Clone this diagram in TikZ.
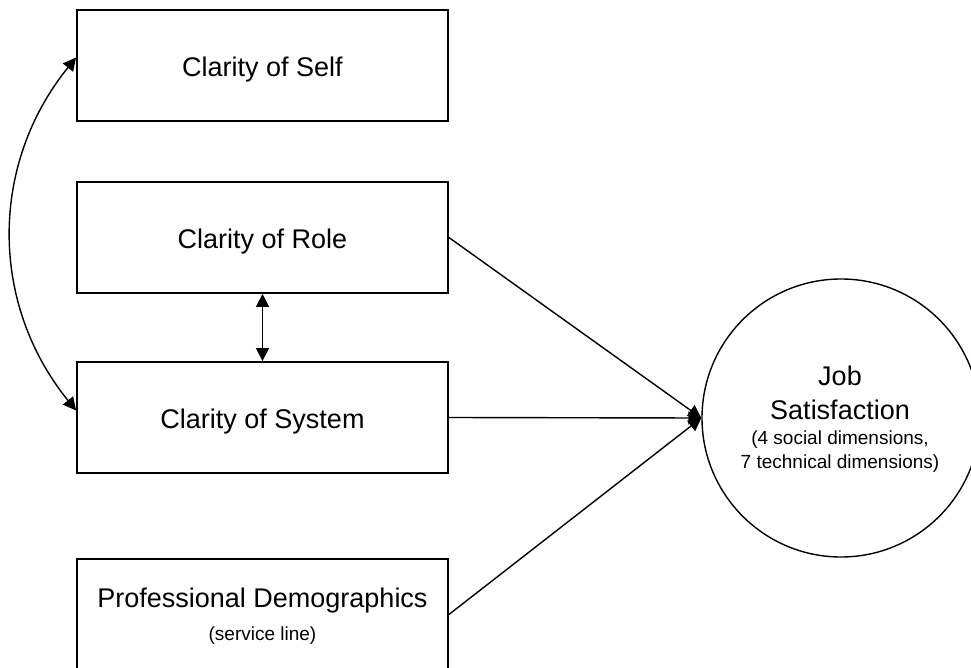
\documentclass[tikz,border=0pt]{standalone}
\usepackage{fontspec}
\setmainfont{Liberation Sans}
\usetikzlibrary{arrows.meta,calc}

\tikzset{
  bigtext/.style={font=\fontsize{27}{32}\selectfont},
  smalltext/.style={font=\fontsize{19}{24}\selectfont},
  factorbox/.style={draw, line width=1.8pt, minimum width=371pt, minimum height=111pt,
    inner sep=0pt},
  outcome/.style={draw, circle, line width=1.4pt, minimum size=278pt, inner sep=0pt},
  link/.style={line width=1.4pt, -{Triangle[length=13pt,width=13pt]}},
  covary/.style={line width=1.4pt, {Triangle[length=13pt,width=13pt]}-{Triangle[length=13pt,width=13pt]}}
}

\begin{document}
\begin{tikzpicture}[x=1pt,y=-1pt]
  \useasboundingbox (0,0) rectangle (971,668);

  % predictor boxes
  \node[factorbox] (self)   at (262.5,65.5)  {};
  \node[factorbox] (role)   at (262.5,237.5) {};
  \node[factorbox] (system) at (262.5,417.5) {};
  \node[factorbox] (demo)   at (262.5,614.5) {};
  \node[bigtext, anchor=base] (selftext) at (262.5,76.5)  {Clarity of Self};
  \node[bigtext, anchor=base] (roletext) at (262.5,248.5) {Clarity of Role};
  \node[bigtext, anchor=base] (systext)  at (262.5,428.5) {Clarity of System};
  \node[bigtext, anchor=base]   (demotitle) at (262.5,607) {Professional Demographics};
  \node[smalltext, anchor=base] (demosub)   at (262.5,640) {(service line)};

  % outcome
  \node[outcome] (job) at (841,418) {};
  \node[bigtext, anchor=base]   (jobA) at (840,385) {Job};
  \node[bigtext, anchor=base]   (jobB) at (840,419) {Satisfaction};
  \node[smalltext, anchor=base] (jobC) at (840,444) {(4 social dimensions,};
  \node[smalltext, anchor=base] (jobD) at (840,468) {7 technical dimensions)};

  % paths to the outcome
  \draw[link] (role.east)   -- (job.west);
  \draw[link] (system.east) -- (job.west);
  \draw[link] (demo.east)   -- (job.west);

  % correlations
  \draw[covary] (role.south) -- (system.north);
  \coordinate (selfend) at ($(self.west)+(0,-8)$);
  \coordinate (sysend)  at ($(system.west)+(0,-7)$);
  \draw[covary] (selfend) to[bend right=39] (sysend);
\end{tikzpicture}
\end{document}
